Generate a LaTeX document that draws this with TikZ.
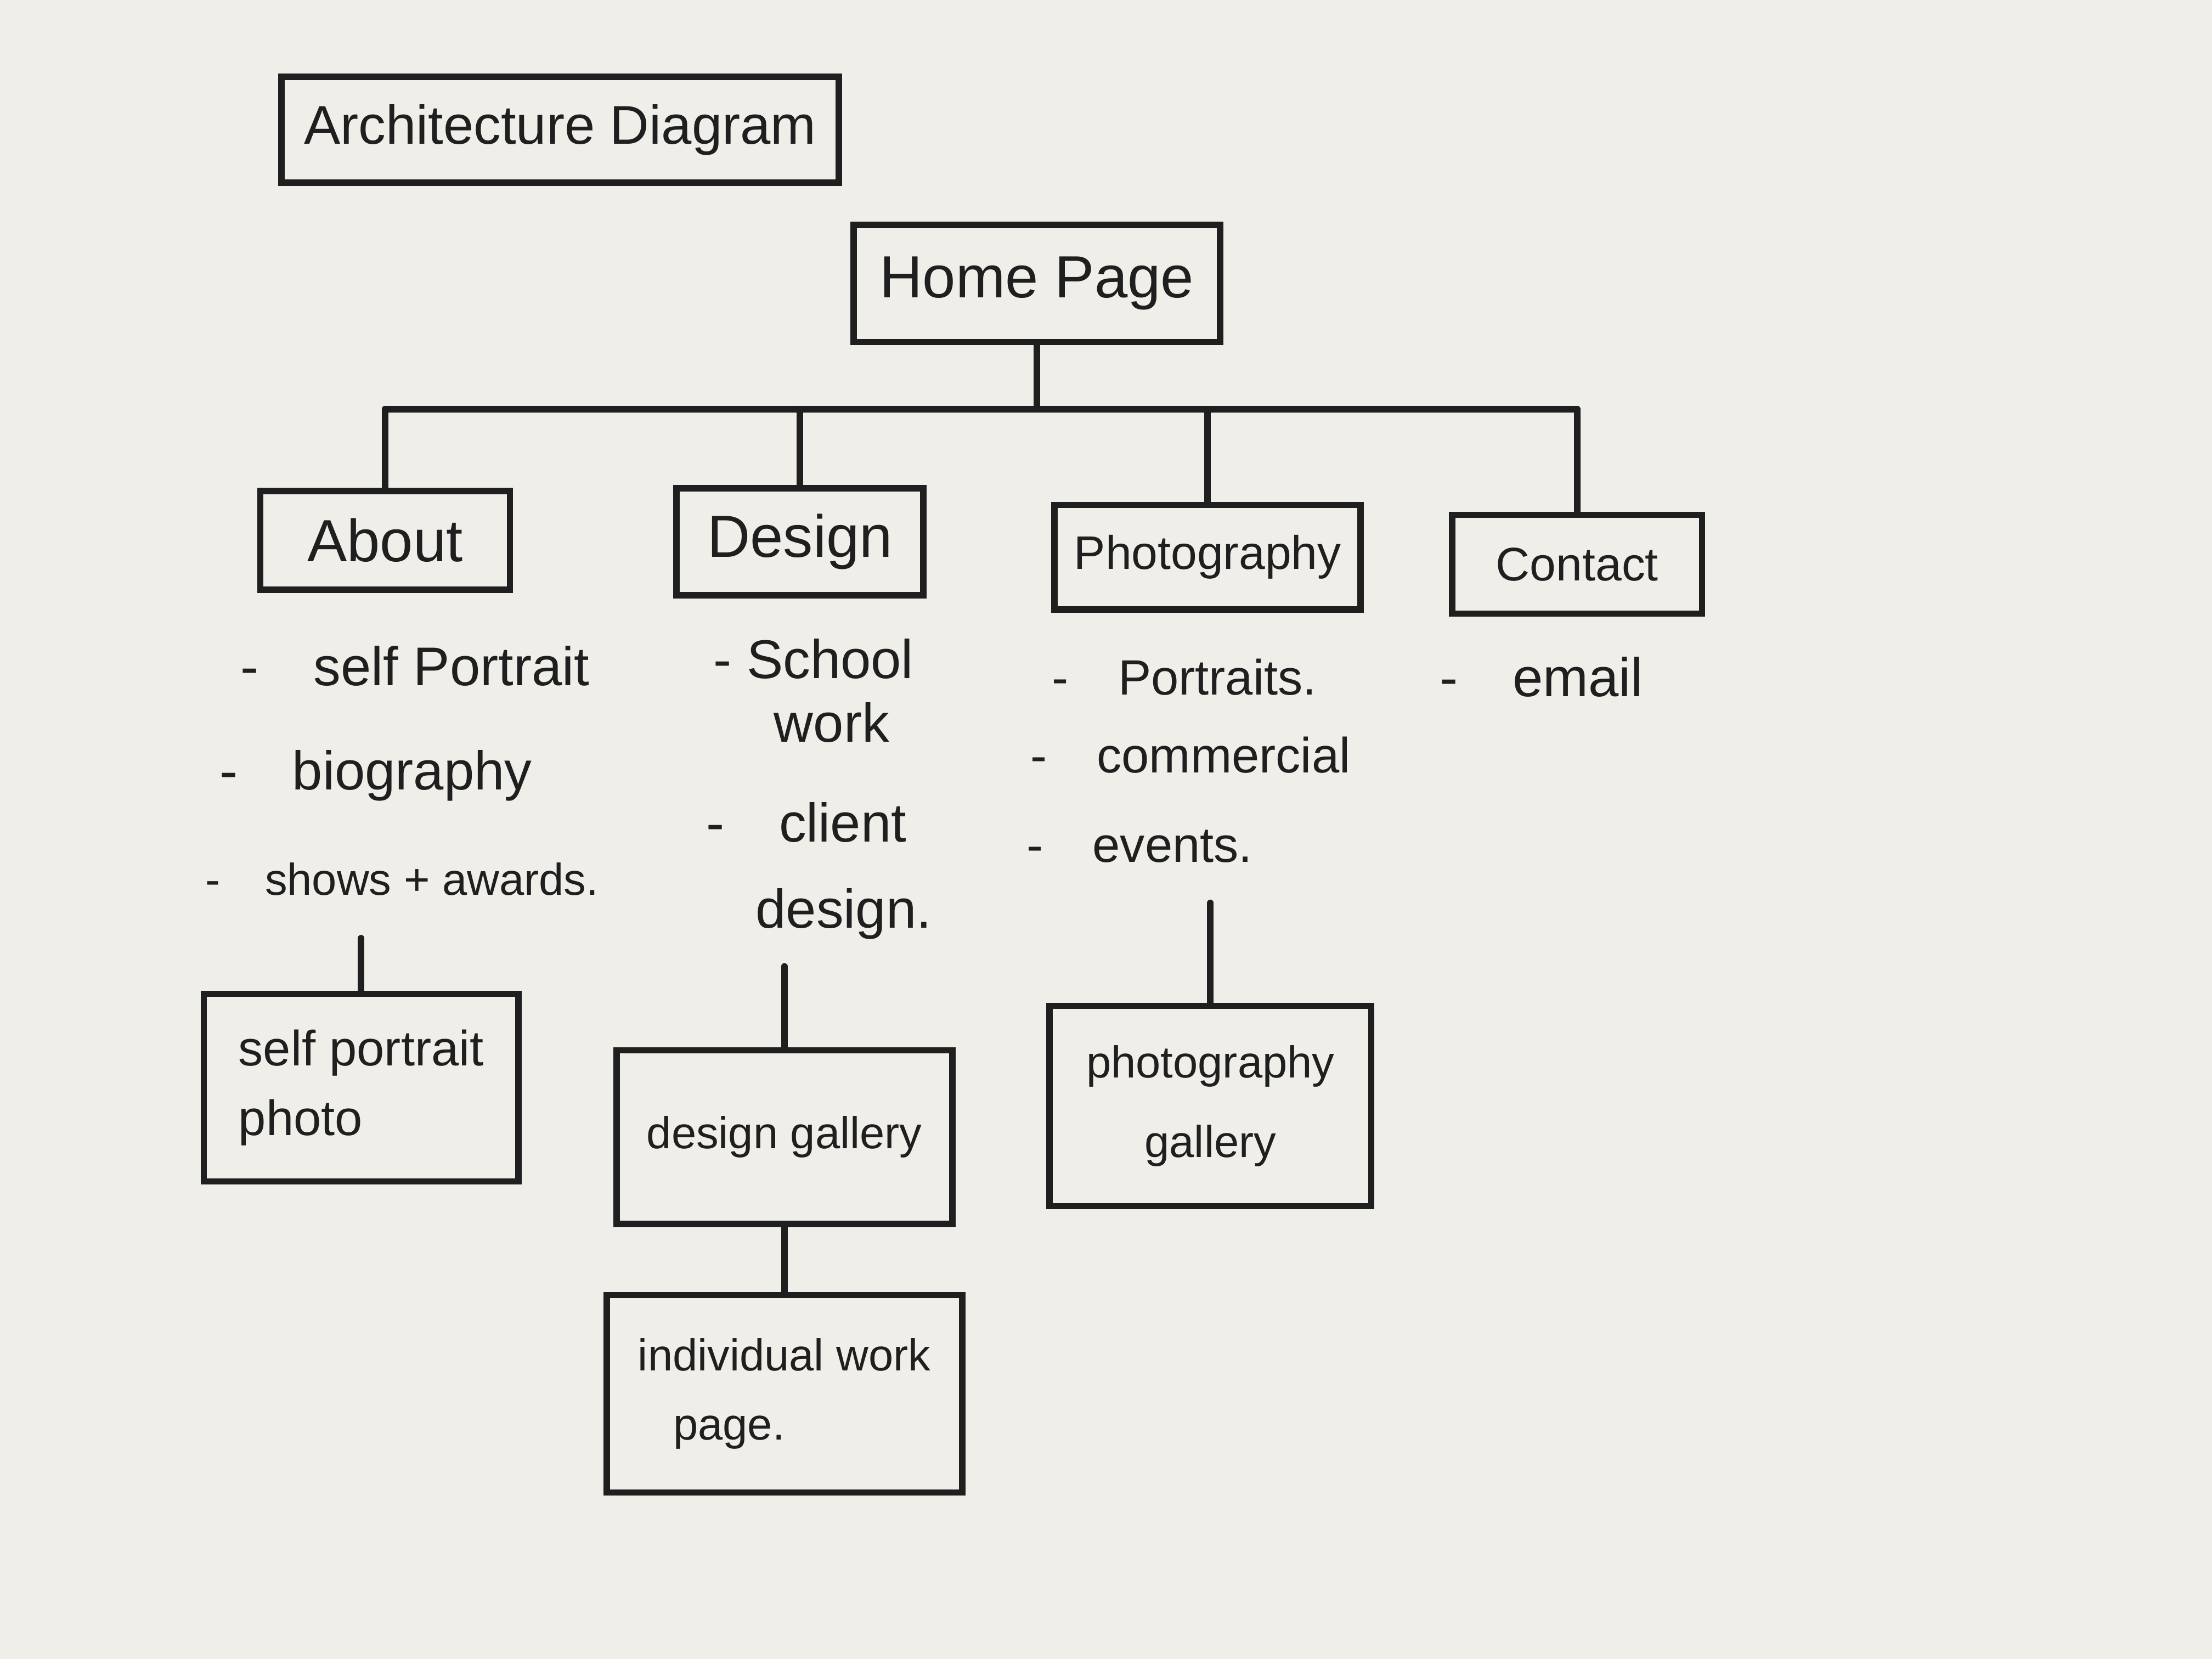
\documentclass[tikz,border=0pt]{standalone}
\usepackage{fontspec}
\setmainfont{Liberation Sans}
\definecolor{paper}{HTML}{F0EEE9}
\definecolor{inkc}{HTML}{1F1F1F}
\begin{document}
\begin{tikzpicture}[x=1cm,y=1cm,
  box/.style={draw=inkc, line width=1.3pt, rectangle, inner sep=0pt, align=center, text=inkc},
  item/.style={text=inkc, inner sep=0pt, align=left, anchor=west},
  link/.style={draw=inkc, line width=1.3pt, line cap=round}]
\fill[paper] (0,0) rectangle (15.68,-11.76);
\useasboundingbox (0,0) rectangle (15.68,-11.76);

% boxes
\node[box, minimum width=3.95cm, minimum height=0.75cm, font=\fontsize{11}{13}\selectfont] (title) at (3.97,-0.92) {Architecture Diagram};
\node[box, minimum width=2.60cm, minimum height=0.83cm, font=\fontsize{12}{14}\selectfont] (home) at (7.35,-2.01) {Home Page};
\node[box, minimum width=1.77cm, minimum height=0.70cm, font=\fontsize{12}{14}\selectfont] (about) at (2.73,-3.83) {About};
\node[box, minimum width=1.75cm, minimum height=0.76cm, font=\fontsize{12}{14}\selectfont] (design) at (5.67,-3.84) {Design};
\node[box, minimum width=2.17cm, minimum height=0.74cm, font=\fontsize{9.5}{11}\selectfont] (photo) at (8.56,-3.95) {Photography};
\node[box, minimum width=1.77cm, minimum height=0.70cm, font=\fontsize{9.5}{11}\selectfont] (contact) at (11.18,-4.00) {Contact};

\node[box, minimum width=2.23cm, minimum height=1.33cm, align=left, font=\fontsize{10}{14}\selectfont] (spp) at (2.56,-7.71) {self portrait\\photo};
\node[box, minimum width=2.38cm, minimum height=1.23cm, font=\fontsize{9}{11}\selectfont] (dg) at (5.56,-8.06) {design gallery};
\node[box, minimum width=2.28cm, minimum height=1.42cm, font=\fontsize{9}{16}\selectfont] (pg) at (8.58,-7.84) {photography\\gallery};
\node[box, minimum width=2.52cm, minimum height=1.40cm, align=left, font=\fontsize{9}{14}\selectfont] (iw) at (5.56,-9.88) {individual work\\\hspace{0.25cm}page.};

% top connectors
\coordinate (bar) at (7.35,-2.90);
\draw[link] (home.south) -- (home.south |- bar);
\draw[link] (about.north |- bar) -- (contact.north |- bar);
\foreach \n in {about,design,photo,contact}
  \draw[link] (\n.north |- bar) -- (\n.north);

% lists
\begin{scope}[font=\fontsize{11}{13}\selectfont]
\node[item] (a1) at (1.70,-4.72) {-\quad self Portrait};
\node[item] (a2) at (1.55,-5.50) {-\quad biography};
\node[item, font=\fontsize{9}{11}\selectfont] (a3) at (1.45,-6.23) {-\quad shows + awards.};

\node[item] (d1) at (5.05,-4.67) {- School};
\node[item] (d2) at (5.48,-5.12) {work};
\node[item] (d3) at (5.00,-5.83) {-\quad client};
\node[item] (d4) at (5.35,-6.48) {design.};

\node[item, font=\fontsize{10}{12}\selectfont] (p1) at (7.45,-4.80) {-\quad Portraits.};
\node[item, font=\fontsize{10}{12}\selectfont] (p2) at (7.30,-5.35) {-\quad commercial};
\node[item, font=\fontsize{10}{12}\selectfont] (p3) at (7.27,-6.00) {-\quad events.};

\node[item] (c1) at (10.20,-4.80) {-\quad email};
\end{scope}

% lower connectors
\coordinate (aEnd) at (2.56,-6.65);
\draw[link] (aEnd) -- (spp.north);
\coordinate (dEnd) at (5.56,-6.85);
\draw[link] (dEnd) -- (dg.north);
\coordinate (pEnd) at (8.58,-6.40);
\draw[link] (pEnd) -- (pg.north);
\draw[link] (dg.south) -- (iw.north);
\end{tikzpicture}
\end{document}
